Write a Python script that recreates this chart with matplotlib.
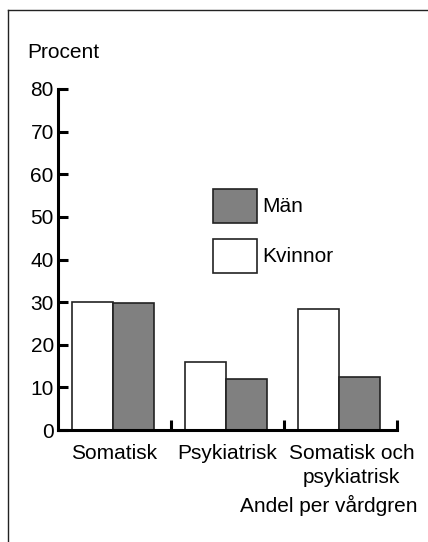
import matplotlib.pyplot as plt
from matplotlib.patches import Rectangle
from matplotlib.lines import Line2D

plt.rcParams['font.family'] = ['Liberation Sans', 'DejaVu Sans']

# Data
categories = ['Somatisk', 'Psykiatrisk', 'Somatisk och\npsykiatrisk']
kvinnor = [30.0, 16.0, 28.4]
man = [29.8, 12.0, 12.5]
yticks = [0, 10, 20, 30, 40, 50, 60, 70, 80]
legend_labels = ['Män', 'Kvinnor']
legend_colors = ['#808080', 'white']

W, H = 428, 542
FS = 15
fig = plt.figure(figsize=(W / 100, H / 100), dpi=100)
ax = fig.add_axes([58 / W, 1 - 430 / H, (397 - 58) / W, (430 - 89) / H])

x = list(range(len(categories)))
bw = 0.362
ax.bar([i - 0.195 for i in x], kvinnor, width=bw, color='white',
       edgecolor='#222222', linewidth=1.2)
ax.bar([i + 0.168 for i in x], man, width=bw, color='#808080',
       edgecolor='#222222', linewidth=1.2)

ax.set_xlim(-0.5, 2.5)
ax.set_ylim(0, 80)
ax.set_yticks(yticks)
ax.tick_params(axis='y', direction='in', length=7, width=2.2,
               labelsize=FS, pad=3)

# x: ticks at group boundaries, labels at group centres
ax.set_xticks([0.5, 1.5, 2.5])
ax.set_xticklabels([])
ax.tick_params(axis='x', which='major', direction='in', length=7, width=2.2)
ax.set_xticks([0, 1, 2.1], minor=True)
ax.set_xticklabels(categories, minor=True, fontsize=FS, linespacing=1.35)
ax.tick_params(axis='x', which='minor', length=0, pad=10)

for s in ['top', 'right']:
    ax.spines[s].set_visible(False)
for s in ['left', 'bottom']:
    ax.spines[s].set_linewidth(2.2)

fig.text(27 / W, 1 - 52 / H, 'Procent', fontsize=FS, va='center', ha='left')
fig.text(418 / W, 1 - 505 / H, 'Andel per vårdgren', fontsize=FS,
         va='center', ha='right')

# Legend (boxes drawn in figure pixels)
for k, (lab, col) in enumerate(zip(legend_labels, legend_colors)):
    top = 189 + k * 50
    fig.add_artist(Rectangle((213 / W, 1 - (top + 34) / H), 44 / W, 34 / H,
                             facecolor=col, edgecolor='#222222', lw=1.2,
                             transform=fig.transFigure))
    fig.text(262 / W, 1 - (top + 17) / H, lab, fontsize=FS,
             va='center', ha='left')

# Outer frame (top and left edges)
fig.add_artist(Line2D([8 / W, 1], [1 - 10 / H, 1 - 10 / H], color='#222222', lw=1))
fig.add_artist(Line2D([8 / W, 8 / W], [0, 1 - 10 / H], color='#222222', lw=1))

fig.savefig('out.png', dpi=100)
